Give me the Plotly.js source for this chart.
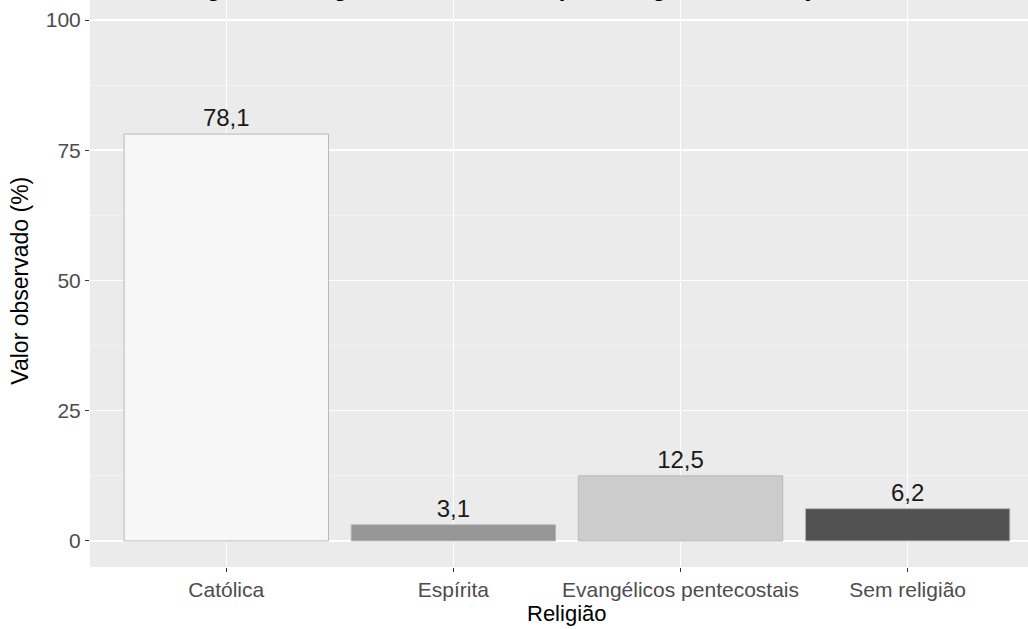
<!DOCTYPE html>
<html>
<head>
<meta charset="utf-8">
<script src="https://cdn.plot.ly/plotly-3.0.1.min.js"></script>
<style>html,body{margin:0;padding:0;background:#fff;}#chart{width:1028px;height:629px;}</style>
</head>
<body>
<div id="chart"></div>
<script>
const categories = ["Católica", "Espírita", "Evangélicos pentecostais", "Sem religião"];
const values = [78.1, 3.1, 12.5, 6.2];
const valueLabels = ["78,1", "3,1", "12,5", "6,2"];
const fills = ["#f7f7f7", "#969696", "#cccccc", "#525252"];
const yTicks = [0, 25, 50, 75, 100];
const titleText = "Porcentagem de religiosos observados por categoria em relação ao total, Brasil";
const xTitle = "Religião";
const yTitle = "Valor observado (%)";

const font = "Liberation Sans, Arial, sans-serif";

const trace = {
  type: "bar",
  x: categories,
  y: values,
  width: 0.9,
  marker: { color: fills, line: { color: "#b8b8b8", width: 1 } },
  text: valueLabels,
  textposition: "outside",
  cliponaxis: false,
  textfont: { family: font, size: 24, color: "#1a1a1a" },
  hoverinfo: "none"
};

const layout = {
  width: 1028,
  height: 629,
  margin: { l: 90, r: 0, t: 0, b: 62 },
  paper_bgcolor: "#ffffff",
  plot_bgcolor: "#ebebeb",
  showlegend: false,
  bargap: 0.1,
  xaxis: {
    type: "category",
    range: [-0.6, 3.53],
    showgrid: true,
    gridcolor: "#ffffff",
    gridwidth: 1.5,
    zeroline: false,
    ticks: "outside",
    ticklen: 4,
    tickcolor: "#333333",
    tickwidth: 1,
    tickfont: { family: font, size: 21, color: "#4d4d4d" }
  },
  yaxis: {
    range: [-5, 103.84],
    tickvals: yTicks,
    ticktext: yTicks.map(String),
    showgrid: true,
    gridcolor: "#ffffff",
    gridwidth: 1.5,
    zeroline: false,
    ticks: "outside",
    ticklen: 4,
    tickcolor: "#333333",
    tickwidth: 1,
    tickfont: { family: font, size: 21, color: "#4d4d4d" },
    minor: { tickvals: [12.5, 37.5, 62.5, 87.5], showgrid: true, gridcolor: "#f5f5f5", gridwidth: 0.8, ticks: "" }
  },
  annotations: [
    {
      xref: "paper", yref: "paper",
      x: 0.5, y: 1.0, xanchor: "center", yanchor: "bottom",
      yshift: -3,
      text: "<b>" + titleText + "</b>",
      showarrow: false,
      font: { family: font, size: 24, color: "#000000" }
    },
    {
      xref: "paper", yref: "paper",
      x: 0.5085, y: 0, xanchor: "center", yanchor: "top",
      yshift: -32,
      text: xTitle,
      showarrow: false,
      font: { family: font, size: 22, color: "#000000" }
    },
    {
      xref: "paper", yref: "paper",
      x: 0, y: 0.505, xanchor: "center", yanchor: "middle",
      xshift: -70,
      textangle: -90,
      text: yTitle,
      showarrow: false,
      font: { family: font, size: 23, color: "#000000" }
    }
  ]
};

Plotly.newPlot("chart", [trace], layout, { displayModeBar: false, staticPlot: true });
</script>
</body>
</html>
